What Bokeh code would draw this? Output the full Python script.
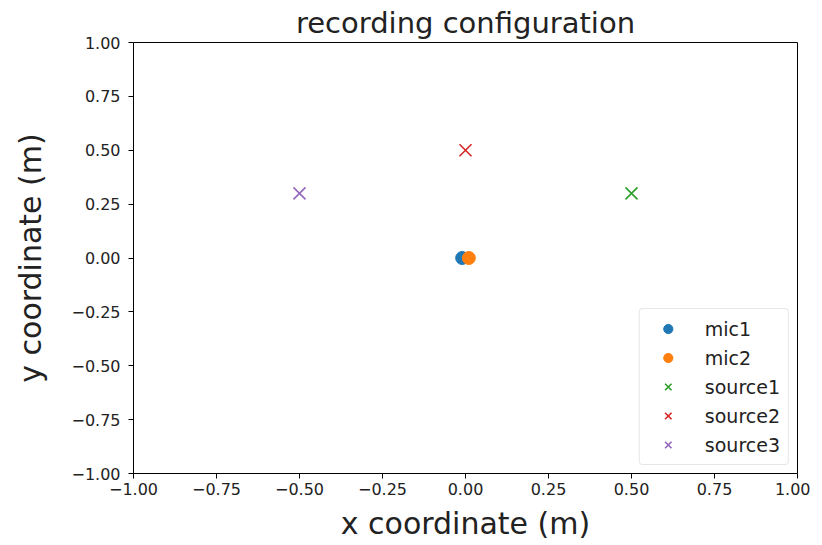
from bokeh.plotting import figure
from bokeh.models import FixedTicker, CustomJSTickFormatter, Range1d, Legend, LegendItem
from bokeh.embed import file_html
from bokeh.resources import INLINE

mic_names = ["mic1", "mic2"]
mic_x = [-0.01, 0.01]
mic_y = [0.0, 0.0]
mic_colors = ["#1f77b4", "#ff7f0e"]

src_names = ["source1", "source2", "source3"]
src_x = [0.5, 0.0, -0.5]
src_y = [0.3, 0.5, 0.3]
src_colors = ["#2ca02c", "#d62728", "#9467bd"]

ticks = [-1.0, -0.75, -0.5, -0.25, 0.0, 0.25, 0.5, 0.75, 1.0]

FONT = "DejaVu Sans"

p = figure(width=810, height=545, output_backend="svg", toolbar_location=None,
           x_range=Range1d(-1, 1), y_range=Range1d(-1, 1),
           title="recording configuration")
p.min_border_left = 133
p.min_border_right = 13
p.min_border_bottom = 72
p.min_border_top = 0
p.title.align = "center"
p.title.text_font = FONT
p.title.text_font_size = "29px"
p.title.text_font_style = "normal"
p.title.text_color = "#222222"
p.title.standoff = 6

p.grid.visible = False
p.outline_line_color = "black"
p.outline_line_width = 1

fmt = CustomJSTickFormatter(code="return tick.toFixed(2).replace('-', '\u2212');")
for ax in (p.xaxis[0], p.yaxis[0]):
    ax.ticker = FixedTicker(ticks=ticks)
    ax.formatter = fmt
    ax.minor_tick_line_color = None
    ax.major_tick_out = 5
    ax.major_tick_in = 0
    ax.major_label_text_font = FONT
    ax.major_label_text_font_size = "16px"
    ax.major_label_text_color = "#222222"
    ax.axis_label_text_font = FONT
    ax.axis_label_text_font_size = "30px"
    ax.axis_label_text_font_style = "normal"
    ax.axis_label_text_color = "#222222"
    ax.axis_line_color = None
    ax.major_tick_line_color = "black"
p.xaxis.axis_label = "x coordinate (m)"
p.yaxis.axis_label = "y coordinate (m)"
p.xaxis.major_label_standoff = 4
p.yaxis.major_label_standoff = 8
p.xaxis.axis_label_standoff = 8
p.yaxis.axis_label_standoff = 20

items = []
for n, x, y, c in zip(mic_names, mic_x, mic_y, mic_colors):
    r = p.scatter([x], [y], marker="circle", size=13, fill_color=c, line_color=c)
    items.append(LegendItem(label=n, renderers=[r]))
for n, x, y, c in zip(src_names, src_x, src_y, src_colors):
    r = p.scatter([x], [y], marker="x", size=17, line_color=c, line_width=1.6)
    items.append(LegendItem(label=n, renderers=[r]))

legend = Legend(items=items, location="bottom_right")
legend.label_text_font = FONT
legend.label_text_font_size = "19px"
legend.label_text_color = "#222222"
legend.border_line_color = "#d0d0d0"
legend.border_line_width = 1
legend.background_fill_alpha = 0.8
legend.margin = 8
legend.padding = 8
legend.spacing = 6
legend.glyph_width = 40
legend.label_standoff = 17
legend.label_height = 23
legend.glyph_height = 23
try:
    legend.border_radius = 4
except Exception:
    pass
p.add_layout(legend)

open("out.html", "w").write(file_html(p, INLINE))
